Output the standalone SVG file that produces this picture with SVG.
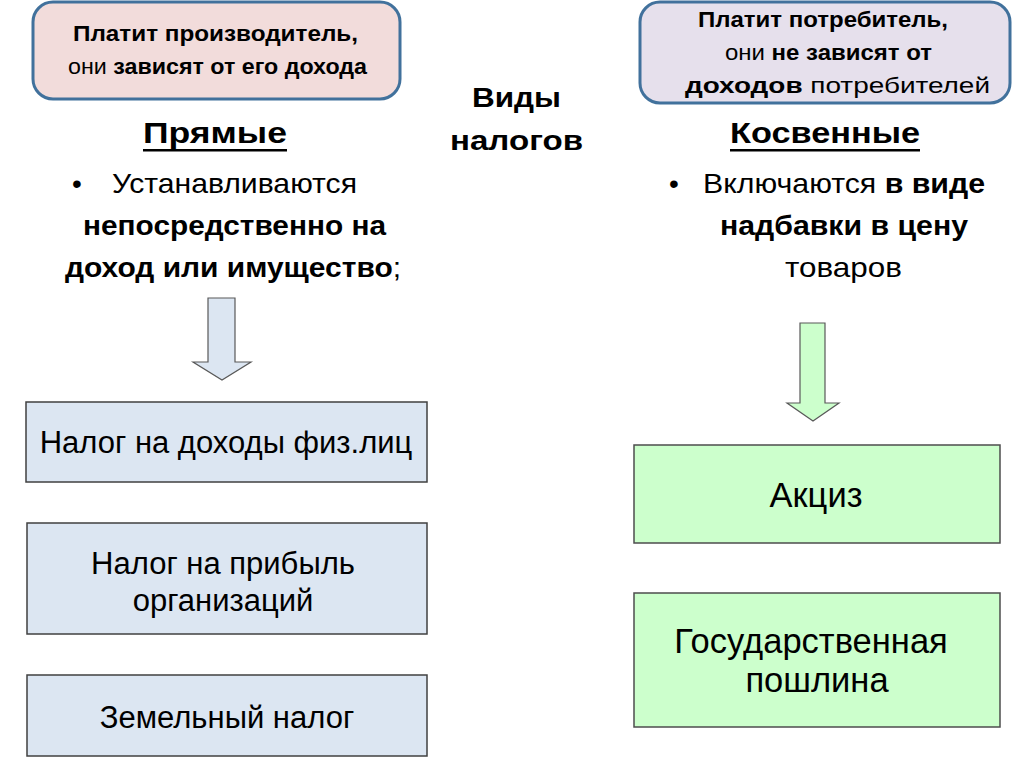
<svg xmlns="http://www.w3.org/2000/svg" width="1024" height="767" viewBox="0 0 1024 767">
<style>
.cal{font-family:"Liberation Sans","DejaVu Sans",sans-serif;fill:#000}
.ar{font-family:"Liberation Sans",Arial,sans-serif;font-size:31px;fill:#000;text-anchor:middle}
.arg{font-size:34.5px}
.b{font-weight:bold}
.n{font-weight:normal}
.top{stroke:#41719c;stroke-width:3}
.blue{fill:#dce6f2;stroke:#404040;stroke-width:1.5}
.green{fill:#ccffcc;stroke:#4d4d4d;stroke-width:1.5}
</style>
<rect width="1024" height="767" fill="#fff"/>
<g id="producer">
<rect class="top" x="33" y="2" width="367" height="97" rx="20" fill="#f2dcdb"/>
<text class="cal b" x="73" y="41" font-size="22" textLength="285" lengthAdjust="spacingAndGlyphs">Платит производитель,</text>
<text class="cal" x="68" y="74" font-size="22" textLength="299" lengthAdjust="spacingAndGlyphs"><tspan class="n">они </tspan><tspan class="b">зависят от его дохода</tspan></text>
</g>
<g id="consumer">
<rect class="top" x="640" y="2" width="370" height="101" rx="20" fill="#e6e0ec"/>
<text class="cal b" x="698" y="27" font-size="22" textLength="250" lengthAdjust="spacingAndGlyphs">Платит потребитель,</text>
<text class="cal" x="725" y="60" font-size="22" textLength="207" lengthAdjust="spacingAndGlyphs"><tspan class="n">они </tspan><tspan class="b">не зависят от</tspan></text>
<text class="cal" x="685" y="93" font-size="22" textLength="305" lengthAdjust="spacingAndGlyphs"><tspan class="b">доходов</tspan><tspan class="n"> потребителей</tspan></text>
</g>
<g id="title">
<text class="cal b" x="472" y="107" font-size="28" textLength="89" lengthAdjust="spacingAndGlyphs">Виды</text>
<text class="cal b" x="450" y="150" font-size="28" textLength="133" lengthAdjust="spacingAndGlyphs">налогов</text>
</g>
<g id="direct">
<text class="cal b" x="143" y="143" font-size="29" textLength="144" lengthAdjust="spacingAndGlyphs">Прямые</text>
<rect x="143" y="149" width="144" height="2.5" fill="#000"/>
<text class="cal" x="72" y="193" font-size="28">•</text>
<text class="cal" x="112" y="193" font-size="28" textLength="245" lengthAdjust="spacingAndGlyphs">Устанавливаются</text>
<text class="cal b" x="83" y="235" font-size="28" textLength="303" lengthAdjust="spacingAndGlyphs">непосредственно на</text>
<text class="cal" x="65" y="277" font-size="28" textLength="336" lengthAdjust="spacingAndGlyphs"><tspan class="b">доход или имущество</tspan><tspan class="n">;</tspan></text>
</g>
<g id="indirect">
<text class="cal b" x="730" y="143" font-size="29" textLength="190" lengthAdjust="spacingAndGlyphs">Косвенные</text>
<rect x="730" y="149" width="190" height="2.5" fill="#000"/>
<text class="cal" x="669" y="193" font-size="28">•</text>
<text class="cal" x="703" y="193" font-size="28" textLength="282" lengthAdjust="spacingAndGlyphs"><tspan class="n">Включаются </tspan><tspan class="b">в виде</tspan></text>
<text class="cal b" x="720" y="235" font-size="28" textLength="248" lengthAdjust="spacingAndGlyphs">надбавки в цену</text>
<text class="cal" x="785" y="277" font-size="28" textLength="117" lengthAdjust="spacingAndGlyphs">товаров</text>
</g>
<g id="connectors">
<polygon points="208,298 235,298 235,362 251,362 222,380 193,362 208,362" fill="#dce6f2" stroke="#595959" stroke-width="1.2"/>
<polygon points="800,323 825,323 825,403 839,403 813,421 787,403 800,403" fill="#ccffcc" stroke="#595959" stroke-width="1.2"/>
</g>
<g id="n-fiz">
<rect class="blue" x="26" y="402" width="401" height="80"/>
<text class="ar" x="226" y="453">Налог на доходы физ.лиц</text>
</g>
<g id="n-prib">
<rect class="blue" x="27" y="523" width="400" height="111"/>
<text class="ar" x="223" y="574">Налог на прибыль</text>
<text class="ar" x="223" y="611">организаций</text>
</g>
<g id="n-zem">
<rect class="blue" x="27" y="675" width="400" height="81"/>
<text class="ar" x="227" y="728">Земельный налог</text>
</g>
<g id="n-akciz">
<rect class="green" x="634" y="445" width="366" height="98"/>
<text class="ar arg" x="816" y="507">Акциз</text>
</g>
<g id="n-gos">
<rect class="green" x="634" y="593" width="366" height="134"/>
<text class="ar arg" x="811" y="653">Государственная</text>
<text class="ar arg" x="817" y="692">пошлина</text>
</g>
</svg>
